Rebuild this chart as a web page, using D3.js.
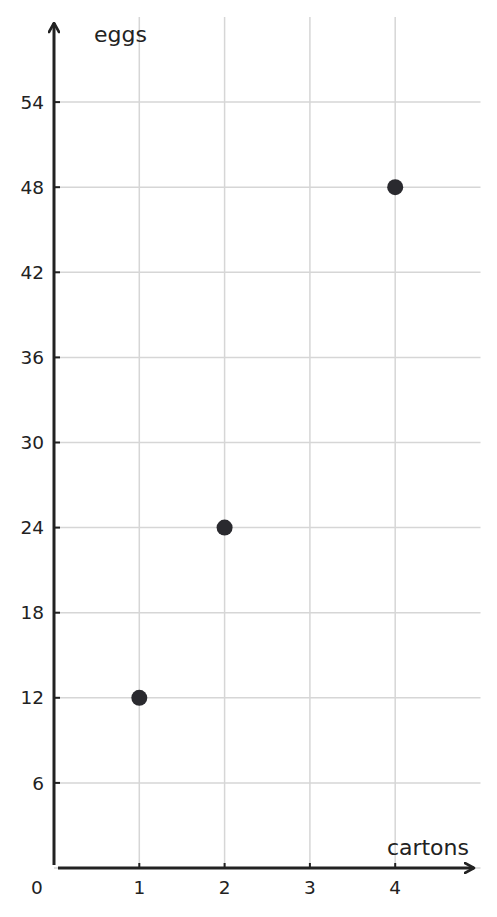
<!DOCTYPE html>
<html>
<head>
<meta charset="utf-8">
<script src="https://cdn.jsdelivr.net/npm/d3@7"></script>
<style>
  body { margin: 0; background: #fff; }
  text { font-family: "DejaVu Sans", sans-serif; fill: #222; }
</style>
</head>
<body>
<script>
// cartons of eggs
var cartons = [1, 2, 4];
var eggs = [12, 24, 48];
var xTicks = [1, 2, 3, 4];
var yTicks = [6, 12, 18, 24, 30, 36, 42, 48, 54];

var width = 497, height = 917;

var x = d3.scaleLinear().domain([0, 5]).range([54, 480.5]);
var y = d3.scaleLinear().domain([0, 60]).range([868, 17]);

var svg = d3.select('body').append('svg')
  .attr('width', width)
  .attr('height', height);

var ink = '#222';
var gridColor = '#d6d6d6';

// grid
svg.append('g').selectAll('line.v')
  .data(xTicks)
  .enter().append('line')
  .attr('x1', function(d) { return x(d); })
  .attr('x2', function(d) { return x(d); })
  .attr('y1', y(0))
  .attr('y2', y(60))
  .attr('stroke', gridColor)
  .attr('stroke-width', 1.5);

svg.append('g').selectAll('line.h')
  .data([0].concat(yTicks))
  .enter().append('line')
  .attr('x1', x(0))
  .attr('x2', x(5))
  .attr('y1', function(d) { return y(d); })
  .attr('y2', function(d) { return y(d); })
  .attr('stroke', gridColor)
  .attr('stroke-width', 1.5);

// axes with arrows
svg.append('defs').append('marker')
  .attr('id', 'arrow')
  .attr('viewBox', '0 0 12 12')
  .attr('refX', 10.5).attr('refY', 6)
  .attr('markerWidth', 12).attr('markerHeight', 12)
  .attr('markerUnits', 'userSpaceOnUse')
  .attr('orient', 'auto')
  .append('path')
  .attr('d', 'M1.5,1 L10.5,6 L1.5,11')
  .attr('fill', 'none')
  .attr('stroke', ink)
  .attr('stroke-width', 2.6)
  .attr('stroke-linecap', 'round')
  .attr('stroke-linejoin', 'round');

svg.append('line')
  .attr('x1', x(0)).attr('x2', x(0))
  .attr('y1', y(0) - 3).attr('y2', 23)
  .attr('stroke', ink).attr('stroke-width', 3)
  .attr('marker-end', 'url(#arrow)');

svg.append('line')
  .attr('x1', x(0) + 4).attr('x2', 474)
  .attr('y1', y(0)).attr('y2', y(0))
  .attr('stroke', ink).attr('stroke-width', 3)
  .attr('marker-end', 'url(#arrow)');

// ticks
svg.append('g').selectAll('line')
  .data(yTicks)
  .enter().append('line')
  .attr('x1', x(0)).attr('x2', x(0) + 6)
  .attr('y1', function(d) { return y(d); })
  .attr('y2', function(d) { return y(d); })
  .attr('stroke', ink).attr('stroke-width', 2);

svg.append('g').selectAll('line')
  .data(xTicks)
  .enter().append('line')
  .attr('x1', function(d) { return x(d); })
  .attr('x2', function(d) { return x(d); })
  .attr('y1', y(0)).attr('y2', y(0) - 5)
  .attr('stroke', ink).attr('stroke-width', 2);

// tick labels
svg.append('g').selectAll('text')
  .data(yTicks)
  .enter().append('text')
  .attr('x', 44)
  .attr('y', function(d) { return y(d); })
  .attr('dy', '0.36em')
  .attr('text-anchor', 'end')
  .attr('font-size', 18.5)
  .text(function(d) { return d; });

svg.append('g').selectAll('text')
  .data(xTicks)
  .enter().append('text')
  .attr('x', function(d) { return x(d); })
  .attr('y', 894)
  .attr('text-anchor', 'middle')
  .attr('font-size', 18.5)
  .text(function(d) { return d; });

svg.append('text')
  .attr('x', 37).attr('y', 894)
  .attr('text-anchor', 'middle')
  .attr('font-size', 18.5)
  .text('0');

// axis titles
svg.append('text')
  .attr('x', 94).attr('y', 42)
  .attr('font-size', 22)
  .text('eggs');

svg.append('text')
  .attr('x', 469).attr('y', 855)
  .attr('text-anchor', 'end')
  .attr('font-size', 22)
  .text('cartons');

// points
svg.append('g').selectAll('circle')
  .data(cartons)
  .enter().append('circle')
  .attr('cx', function(d) { return x(d); })
  .attr('cy', function(d, i) { return y(eggs[i]); })
  .attr('r', 8)
  .attr('fill', '#2a2a2f');
</script>
</body>
</html>
